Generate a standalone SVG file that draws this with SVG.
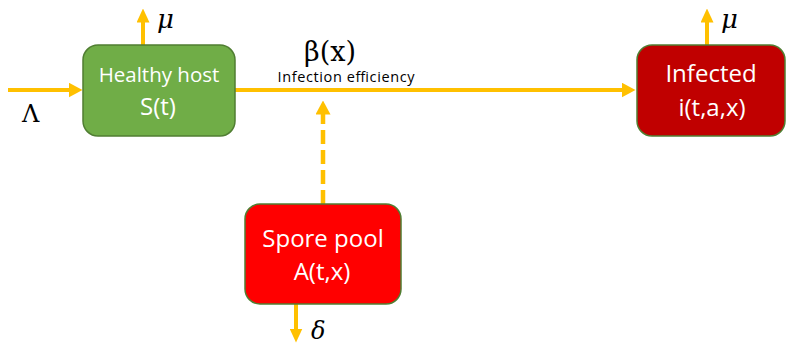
<svg xmlns="http://www.w3.org/2000/svg" width="786" height="344" viewBox="0 0 786 344">
  <style>
    .box { stroke: #507E32; stroke-width: 1.5; }
    .lbl { font-family: "Open Sans", "Liberation Sans", sans-serif; fill: #ffffff; text-anchor: middle; }
    .flow { fill: none; stroke: #FFC000; stroke-width: 4; }
    .dash { stroke-width: 4.5; stroke-dasharray: 14 6; }
    .sym { font-family: "DejaVu Serif", "Liberation Serif", serif; fill: #000000; }
  </style>
  <defs>
    <marker id="head" markerUnits="userSpaceOnUse" viewBox="0 0 14 15" markerWidth="14" markerHeight="15" refX="0.5" refY="7.5" orient="auto">
      <path d="M0,0 L14,7.5 L0,15 Z" fill="#FFC000"/>
    </marker>
    <marker id="headS" markerUnits="userSpaceOnUse" viewBox="0 0 14 13" markerWidth="14" markerHeight="13" refX="0.5" refY="6.5" orient="auto">
      <path d="M0,0 L14,6.5 L0,13 Z" fill="#FFC000"/>
    </marker>
  </defs>

  <g id="connectors">
    <!-- inflow into healthy hosts -->
    <path class="flow" d="M8,90 H69" marker-end="url(#head)"/>
    <text class="sym" x="22" y="122" font-size="24">Λ</text>
    <!-- infection -->
    <path class="flow" d="M235,90 H622" marker-end="url(#head)"/>
    <text class="sym" x="330" y="61" font-size="27" text-anchor="middle">β(x)</text>
    <text x="346" y="82" font-family="Open Sans, Liberation Sans, sans-serif" font-size="14.5" text-anchor="middle" fill="#000000" textLength="137">Infection efficiency</text>
    <!-- spores feeding infection -->
    <path class="flow dash" d="M323,204 V114" marker-end="url(#head)"/>
    <!-- mortality of healthy hosts -->
    <path class="flow" d="M143,45 V22" marker-end="url(#headS)"/>
    <text class="sym" x="157" y="28" font-size="26" font-style="italic">μ</text>
    <!-- mortality of infected -->
    <path class="flow" d="M707,45 V22" marker-end="url(#headS)"/>
    <text class="sym" x="721" y="28" font-size="26" font-style="italic">μ</text>
    <!-- spore decay -->
    <path class="flow" d="M296,304 V329" marker-end="url(#headS)"/>
    <text class="sym" x="311" y="339" font-size="24" font-style="italic">δ</text>
  </g>

  <g id="healthy">
    <rect class="box" x="83" y="45" width="152" height="91" rx="15" fill="#70AD47"/>
    <text class="lbl" x="159" y="82" font-size="20.5">Healthy host</text>
    <text class="lbl" x="158" y="115" font-size="24">S(t)</text>
  </g>

  <g id="infected">
    <rect class="box" x="637" y="45" width="148" height="91" rx="15" fill="#C00000"/>
    <text class="lbl" x="711" y="82" font-size="24">Infected</text>
    <text class="lbl" x="712" y="116" font-size="24">i(t,a,x)</text>
  </g>

  <g id="spore">
    <rect class="box" x="245" y="204" width="156" height="100" rx="15" fill="#FF0000"/>
    <text class="lbl" x="323" y="247" font-size="24">Spore pool</text>
    <text class="lbl" x="322" y="280" font-size="24">A(t,x)</text>
  </g>
</svg>
